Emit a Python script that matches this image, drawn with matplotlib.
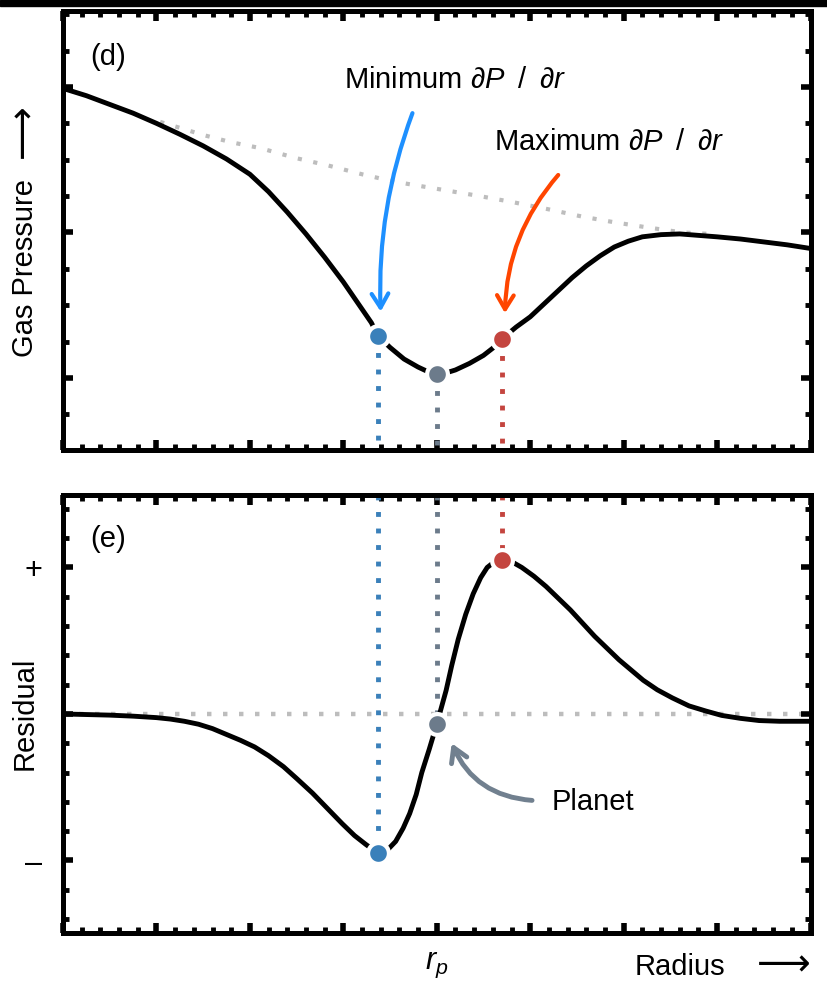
import matplotlib
matplotlib.use('Agg')
import matplotlib.pyplot as plt
from matplotlib.ticker import MultipleLocator, NullFormatter, FuncFormatter
from matplotlib.patches import Rectangle

#Values (radius in units of major ticks, planet at r=4)
#Panel (d): gas pressure profile
r_pressure = [0.0, 0.25, 0.5, 0.75, 1.0, 1.25, 1.5, 1.75, 2.0, 2.2, 2.4, 2.6, 2.8, 3.0, 3.15,
              3.3, 3.37, 3.5, 3.65, 3.8, 3.9, 4.0, 4.1, 4.2, 4.35, 4.5, 4.6, 4.7, 4.85, 5.0,
              5.15, 5.3, 5.45, 5.6, 5.75, 5.9, 6.05, 6.2, 6.4, 6.6, 6.8, 7.0, 7.25, 7.5, 7.75, 8.0]
pressure = [1.99, 1.94, 1.88, 1.82, 1.75, 1.675, 1.595, 1.505, 1.40, 1.28, 1.14, 0.99, 0.83, 0.66,
            0.52, 0.38, 0.29, 0.21, 0.13, 0.075, 0.045, 0.03, 0.035, 0.055, 0.10, 0.155, 0.205,
            0.27, 0.35, 0.42, 0.51, 0.60, 0.69, 0.77, 0.84, 0.90, 0.94, 0.97, 0.985, 0.99,
            0.98, 0.97, 0.955, 0.935, 0.915, 0.89]
#Unperturbed background pressure (grey dotted)
r_background = [1.04, 1.22, 1.5, 1.8, 2.11, 2.5, 2.84, 3.2, 3.54, 4.0, 4.46, 4.8, 5.19, 5.55,
                5.90, 6.25, 6.63, 6.92]
background = [1.76, 1.725, 1.67, 1.62, 1.58, 1.51, 1.46, 1.40, 1.35, 1.30, 1.25, 1.21, 1.16,
              1.11, 1.07, 1.035, 1.00, 0.99]

#Panel (e): residual
r_residual = [0.0, 0.5, 0.75, 1.0, 1.15, 1.3, 1.45, 1.6, 1.75, 1.9, 2.05, 2.2, 2.36, 2.5, 2.67,
              2.83, 2.99, 3.12, 3.24, 3.37, 3.47, 3.56, 3.64, 3.71, 3.78, 3.84, 3.92, 4.0, 4.10,
              4.16, 4.23, 4.31, 4.39, 4.47, 4.54, 4.62, 4.70, 4.80, 4.91, 5.04, 5.17, 5.30, 5.43,
              5.56, 5.69, 5.82, 5.95, 6.08, 6.21, 6.36, 6.52, 6.7, 6.88, 7.05, 7.25, 7.45, 7.67, 8.0]
residual = [0.0, -0.008, -0.015, -0.025, -0.035, -0.05, -0.07, -0.10, -0.14, -0.18, -0.225,
            -0.285, -0.36, -0.44, -0.54, -0.645, -0.75, -0.83, -0.89, -0.95, -0.93, -0.87,
            -0.78, -0.68, -0.55, -0.40, -0.24, -0.07, 0.16, 0.33, 0.51, 0.68, 0.82, 0.93, 1.00,
            1.04, 1.05, 1.04, 1.00, 0.94, 0.87, 0.79, 0.71, 0.62, 0.53, 0.45, 0.37, 0.30, 0.23,
            0.165, 0.11, 0.055, 0.02, -0.01, -0.03, -0.045, -0.05, -0.05]

#Key points: min dP/dr, planet, max dP/dr
key_r = [3.37, 4.0, 4.70]
key_pressure = [0.29, 0.03, 0.27]
key_residual = [-0.95, -0.07, 1.05]
key_colors = ['#3A80BA', '#6C7B8B', '#C4453F']

#Fonts
plt.rcParams['font.family'] = ['Liberation Sans', 'DejaVu Sans']
plt.rcParams['mathtext.fontset'] = 'custom'
plt.rcParams['mathtext.rm'] = 'Liberation Sans'
plt.rcParams['mathtext.it'] = 'Liberation Sans:italic'
plt.rcParams['mathtext.bf'] = 'Liberation Sans:bold'

fig = plt.figure(figsize=(8.27, 9.98), dpi=100)
ax1 = fig.add_axes([63/827, 1-450/998, 747.5/827, 439/998])
ax2 = fig.add_axes([63/827, 1-933/998, 747.5/827, 437.5/998])

#Black strip along the top edge
fig.patches.append(Rectangle((0, 1-6/998), 1, 6/998, transform=fig.transFigure,
                             color='black', zorder=10))

def style_axes(ax, yminor):
    for s in ax.spines.values():
        s.set_linewidth(3.6)
    ax.tick_params(which='both', direction='in', top=True, right=True, color='black')
    ax.tick_params(which='major', length=7, width=4)
    ax.tick_params(which='minor', length=4.2, width=3.5)
    ax.xaxis.set_major_locator(MultipleLocator(1))
    ax.xaxis.set_minor_locator(MultipleLocator(0.2))
    ax.yaxis.set_major_locator(MultipleLocator(1))
    ax.yaxis.set_minor_locator(MultipleLocator(yminor))
    ax.set_xlim(0, 8)

style_axes(ax1, 0.25)
style_axes(ax2, 0.2)
ax1.set_ylim(-0.495, 2.522)
ax2.set_ylim(-1.495, 1.491)

dot = (0, (1, 2.4))
arrow_head = '->,head_length=0.5,head_width=0.3'
dpdr = r'$\partial P\;\;/\;\;\partial r$'

#PANEL (d)
ax1.xaxis.set_major_formatter(NullFormatter())
ax1.yaxis.set_major_formatter(NullFormatter())
ax1.plot(r_background, background, color='#BDBDBD', lw=3, ls=(0, (1, 2.8)), zorder=1)
ax1.plot(r_pressure, pressure, color='black', lw=3.5, zorder=3,
         solid_capstyle='round', solid_joinstyle='round')
y_bottom = ax1.get_ylim()[0]
for r, p, c in zip(key_r, key_pressure, key_colors):
    ax1.plot([r, r], [p, y_bottom], color=c, lw=3.5, ls=dot, zorder=2)
    ax1.plot(r, p, 'o', ms=15, mfc=c, mec='white', mew=3, zorder=4)

ax1.text(0.29, 2.15, '(d)', fontsize=21, va='baseline')
ax1.text(3.01, 1.99, 'Minimum ' + dpdr, fontsize=21, va='baseline')
ax1.text(4.61, 1.567, 'Maximum ' + dpdr, fontsize=21, va='baseline')
ax1.annotate('', xy=(3.40, 0.456), xytext=(3.74, 1.82),
             arrowprops=dict(arrowstyle=arrow_head, color='#1E90FF', lw=3,
                             connectionstyle='arc3,rad=0.1', shrinkA=0, shrinkB=0,
                             mutation_scale=20))
ax1.annotate('', xy=(4.73, 0.445), xytext=(5.30, 1.395),
             arrowprops=dict(arrowstyle=arrow_head, color='#FF4500', lw=3,
                             connectionstyle='arc3,rad=0.18', shrinkA=0, shrinkB=0,
                             mutation_scale=20))

#PANEL (e)
ax2.axhline(0, color='#BDBDBD', lw=3.2, ls=(0, (1, 2.6)), zorder=1)
ax2.plot(r_residual, residual, color='black', lw=3.5, zorder=3,
         solid_capstyle='round', solid_joinstyle='round')
y_top = ax2.get_ylim()[1]
for r, p, c in zip(key_r, key_residual, key_colors):
    ax2.plot([r, r], [y_top, p], color=c, lw=3.5, ls=dot, zorder=2)
    ax2.plot(r, p, 'o', ms=15, mfc=c, mec='white', mew=3, zorder=4)

ax2.text(0.29, 1.14, '(e)', fontsize=21, va='baseline')
ax2.text(5.23, -0.655, 'Planet', fontsize=21, va='baseline')
ax2.annotate('', xy=(4.16, -0.20), xytext=(5.02, -0.59),
             arrowprops=dict(arrowstyle=arrow_head, color='#71808F', lw=3.5,
                             connectionstyle='arc3,rad=-0.3', shrinkA=0, shrinkB=0,
                             mutation_scale=20))

ax2.xaxis.set_major_formatter(FuncFormatter(lambda v, pos: r'$r_p$' if abs(v-4) < 1e-6 else ''))
ax2.yaxis.set_major_formatter(FuncFormatter(lambda v, pos: {1: '+', -1: '\u2013'}.get(int(round(v)), '')))
ax2.tick_params(axis='x', which='major', labelsize=22, pad=12)
ax2.tick_params(axis='y', which='major', labelsize=22, pad=15)

#Axis labels, word and arrow placed separately
fig.text(33/827, 1-268/998, 'Gas Pressure', fontsize=21, rotation=90,
         rotation_mode='anchor', ha='center', va='baseline')
fig.text(33/827, 1-131/998, '\u27f6', fontsize=27, rotation=90,
         rotation_mode='anchor', ha='center', va='baseline')
fig.text(33/827, 1-713/998, 'Residual', fontsize=21, rotation=90,
         rotation_mode='anchor', ha='center', va='baseline')
fig.text(635/827, 1-975/998, 'Radius', fontsize=21, ha='left', va='baseline')
fig.text(757/827, 1-975/998, '\u27f6', fontsize=27, ha='left', va='baseline')

fig.savefig('out.png', dpi=100)
